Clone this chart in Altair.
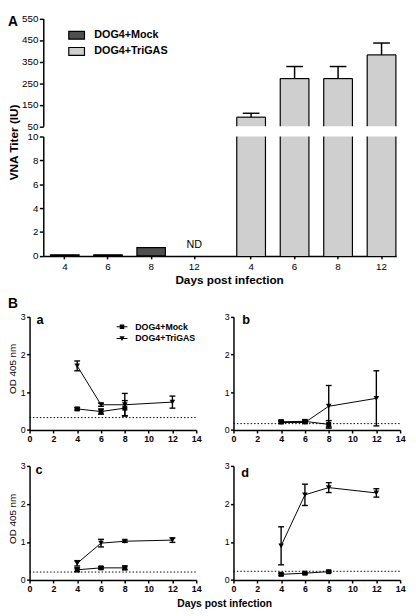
import altair as alt
import pandas as pd

# ---------------- data ----------------
groups = ["DOG4+Mock", "DOG4+TriGAS"]
group_fill = ["#4f4f4f", "#cfcfcf"]

# Panel A: VNA titer (IU)
a_days = ["4", "6", "8", "12"]
a_mock_titer = [0.1, 0.1, 0.7, None]      # day 12: ND
a_tri_titer = [92, 271, 271, 381]
a_tri_sd = [18, 56, 56, 55]

# Panel B: OD 405 nm
b_panels = ["a", "b", "c", "d"]
b_mock_days = [4, 6, 8]
b_tri_days = [4, 6, 8, 12]
b_mock_mean = {"a": [0.56, 0.49, 0.58], "b": [0.22, 0.23, 0.15],
               "c": [0.27, 0.32, 0.32], "d": [0.15, 0.18, 0.22]}
b_mock_sd = {"a": [0.03, 0.07, 0.20], "b": [0.04, 0.04, 0.10],
             "c": [0.05, 0.03, 0.05], "d": [0.03, 0.02, 0.02]}
b_tri_mean = {"a": [1.70, 0.67, 0.67, 0.74], "b": [0.20, 0.20, 0.63, 0.84],
              "c": [0.44, 0.97, 1.02, 1.05], "d": [0.90, 2.24, 2.43, 2.29]}
b_tri_sd = {"a": [0.13, 0.04, 0.30, 0.16], "b": [0.03, 0.03, 0.55, 0.73],
            "c": [0.07, 0.10, 0.03, 0.06], "d": [0.50, 0.28, 0.13, 0.11]}
b_cutoff = {"a": 0.33, "b": 0.17, "c": 0.21, "d": 0.23}

# ---------------- layout (pixels inside the canvas) ----------------
W, H = 408, 608
FONT = "Liberation Sans"
A_AXIS_X = 36
A_AXIS_X_END = 396
A_UP_RANGE = [114.5, 4.6]
A_LO_RANGE = [246.8, 125.0]
A_MOCK_RANGE = [36, 212]
A_TRI_RANGE = [225.8, 403.2]
B_XR = {"a": [22, 192], "b": [230, 400], "c": [22, 192], "d": [230, 400]}
B_YR = {"a": [424.4, 308.9], "b": [424.4, 308.9], "c": [577.4, 461.0], "d": [577.4, 461.0]}

PATH_BOX = "M-1,-0.5H1V0.5H-1Z"
# legend symbols: a thin filled bar (the line) plus the marker
PATH_MOCK = "M-1,-0.09H1V0.09H-1Z M-0.42,-0.42H0.42V0.42H-0.42Z"
PATH_TRI = "M-1,-0.09H1V0.09H-1Z M-0.48,-0.42L0.48,-0.42L0,0.45Z"


def axis_y(x_px, values, size=10, weight="normal", tick=4, pad=1.5, width=1.5):
    return alt.Axis(orient="left", offset=-x_px, values=values, title=None, grid=False,
                    domainColor="black", domainWidth=width, tickColor="black",
                    tickWidth=width, tickSize=tick, labelFont=FONT, labelFontSize=size,
                    labelFontWeight=weight, labelColor="black", labelPadding=pad,
                    labelFlush=False, labelOverlap=False, labelBound=False, labelAngle=0)


def axis_x(y_px, size=10, weight="normal", tick=3, pad=2, domain=True, labels=True,
           ticks=True, width=1.5, values=None):
    kw = dict(orient="bottom", offset=y_px - H, title=None, grid=False, domain=domain,
              domainColor="black", domainWidth=width, ticks=ticks, tickColor="black",
              tickWidth=width, tickSize=tick, labels=labels, labelFont=FONT,
              labelFontSize=size, labelFontWeight=weight, labelColor="black",
              labelPadding=pad, labelFlush=False, labelOverlap=False, labelBound=False,
              labelAngle=0, labelAlign="center", labelBaseline="top")
    if values is not None:
        kw["values"] = values
    return alt.Axis(**kw)


def text_layer(txt, x, y, size, weight="normal", angle=0, align="center"):
    return alt.Chart(pd.DataFrame({"t": [txt]})).mark_text(
        font=FONT, fontSize=size, fontWeight=weight, angle=angle, align=align,
        baseline="middle", color="black"
    ).encode(x=alt.value(x), y=alt.value(y), text="t:N")


layers = []

# ---------------- Panel A ----------------
df_mock = pd.DataFrame({"day": a_days, "titer": a_mock_titer, "group": groups[0]})
df_mock_bar = df_mock.dropna()
df_nd = df_mock[df_mock["titer"].isna()].assign(label="ND")
df_tri = pd.DataFrame({"day": a_days, "titer": a_tri_titer, "sd": a_tri_sd, "group": groups[1]})
df_tri["hi"] = df_tri["titer"] + df_tri["sd"]

mock_scale = alt.Scale(domain=a_days, range=A_MOCK_RANGE, paddingInner=0.34, paddingOuter=0.17)
tri_scale = alt.Scale(domain=a_days, range=A_TRI_RANGE, paddingInner=0.34, paddingOuter=0.17)
lo_scale = alt.Scale(domain=[0, 10], range=A_LO_RANGE, clamp=True, nice=False)
up_scale = alt.Scale(domain=[50, 550], range=A_UP_RANGE, clamp=True, nice=False, zero=False)
fill_scale = alt.Scale(domain=groups, range=group_fill)

legend_a = alt.Legend(orient="none", legendX=61, legendY=12.7, title=None,
                      symbolType=PATH_BOX, symbolSize=256, symbolStrokeColor="black",
                      symbolStrokeWidth=1.2, labelFont=FONT, labelFontSize=11,
                      labelFontWeight="bold", labelColor="black", labelOffset=9,
                      rowPadding=0.5, padding=0)

# x-axis line of panel A
layers.append(
    alt.Chart(pd.DataFrame({"v": [0, 1]})).mark_point(opacity=0).encode(
        x=alt.X("v:Q", scale=alt.Scale(domain=[0, 1], range=[A_AXIS_X, A_AXIS_X_END], nice=False),
                axis=axis_x(A_LO_RANGE[0], labels=False, ticks=False)),
        y=alt.value(0),
    )
)

# Mock bars (lower segment)
layers.append(
    alt.Chart(df_mock_bar).mark_bar(stroke="black", strokeWidth=1.2).encode(
        x=alt.X("day:N", scale=mock_scale, axis=axis_x(A_LO_RANGE[0], domain=False, pad=2.5)),
        y=alt.Y("titer:Q", scale=lo_scale, axis=axis_y(A_AXIS_X, [0, 2, 4, 6, 8, 10])),
        y2=alt.datum(0),
        fill=alt.Fill("group:N", scale=fill_scale, legend=legend_a),
    )
)
# ND label
layers.append(
    alt.Chart(df_nd).mark_text(font=FONT, fontSize=11, color="black", baseline="middle").encode(
        x=alt.X("day:N", scale=mock_scale, axis=None),
        y=alt.value(236),
        text="label:N",
    )
)

# TriGAS bars lower segment (fill + side edges)
layers.append(
    alt.Chart(df_tri).mark_bar(strokeWidth=0).encode(
        x=alt.X("day:N", scale=tri_scale, axis=axis_x(A_LO_RANGE[0], domain=False, pad=2.5)),
        y=alt.Y("titer:Q", scale=lo_scale, axis=None),
        y2=alt.datum(0),
        fill=alt.Fill("group:N", scale=fill_scale, legend=None),
    )
)
for bp in (0, 1):
    layers.append(
        alt.Chart(df_tri).mark_rule(color="black", strokeWidth=1.2).encode(
            x=alt.X("day:N", scale=tri_scale, axis=None, bandPosition=bp),
            y=alt.Y("titer:Q", scale=lo_scale, axis=None),
            y2=alt.datum(0),
        )
    )

# TriGAS bars upper segment
layers.append(
    alt.Chart(df_tri).mark_bar(strokeWidth=0).encode(
        x=alt.X("day:N", scale=tri_scale, axis=None),
        y=alt.Y("titer:Q", scale=up_scale,
                axis=axis_y(A_AXIS_X, [50, 150, 250, 350, 450, 550])),
        y2=alt.datum(50),
        fill=alt.Fill("group:N", scale=fill_scale, legend=None),
    )
)
for bp in (0, 1):
    layers.append(
        alt.Chart(df_tri).mark_rule(color="black", strokeWidth=1.2).encode(
            x=alt.X("day:N", scale=tri_scale, axis=None, bandPosition=bp),
            y=alt.Y("titer:Q", scale=up_scale, axis=None),
            y2=alt.datum(50),
        )
    )
# top edge of bars
layers.append(
    alt.Chart(df_tri).mark_tick(orient="horizontal", size=29.5, thickness=1.2, color="black", opacity=1).encode(
        x=alt.X("day:N", scale=tri_scale, axis=None),
        y=alt.Y("titer:Q", scale=up_scale, axis=None),
    )
)
# error bars (upward)
layers.append(
    alt.Chart(df_tri).mark_rule(color="black", strokeWidth=1.5).encode(
        x=alt.X("day:N", scale=tri_scale, axis=None),
        y=alt.Y("titer:Q", scale=up_scale, axis=None),
        y2="hi:Q",
    )
)
layers.append(
    alt.Chart(df_tri).mark_tick(orient="horizontal", size=17, thickness=1.5, color="black", opacity=1).encode(
        x=alt.X("day:N", scale=tri_scale, axis=None),
        y=alt.Y("hi:Q", scale=up_scale, axis=None),
    )
)

# ---------------- Panel B ----------------
rows = []
for k in b_panels:
    for d, m, s in zip(b_mock_days, b_mock_mean[k], b_mock_sd[k]):
        rows.append({"panel": k, "group": groups[0], "day": d, "mean": m, "lo": m - s, "hi": m + s})
    for d, m, s in zip(b_tri_days, b_tri_mean[k], b_tri_sd[k]):
        rows.append({"panel": k, "group": groups[1], "day": d, "mean": m, "lo": m - s, "hi": m + s})
df_b = pd.DataFrame(rows)

for k in b_panels:
    dk = df_b[df_b["panel"] == k]
    xs = alt.Scale(domain=[0, 14], range=B_XR[k], nice=False, zero=False)
    ys = alt.Scale(domain=[0, 3], range=B_YR[k], nice=False, zero=False)
    x_ax = axis_x(B_YR[k][0], size=9, weight="bold", tick=3, pad=1.5,
                  values=list(range(0, 15, 2)))
    y_ax = axis_y(B_XR[k][0], [0, 1, 2, 3], size=9, tick=3, pad=1.5)
    xq = alt.X("day:Q", scale=xs, axis=None)

    # cut-off line
    layers.append(
        alt.Chart(pd.DataFrame({"cut": [b_cutoff[k]]})).mark_rule(
            color="black", strokeWidth=1, strokeDash=[1.5, 2]).encode(
            x=alt.XDatum(0, type="quantitative", scale=xs, axis=None),
            x2=alt.X2Datum(14),
            y=alt.Y("cut:Q", scale=ys, axis=None),
        )
    )
    # connecting lines (carry the axes)
    layers.append(
        alt.Chart(dk).mark_line(color="black", strokeWidth=1).encode(
            x=alt.X("day:Q", scale=xs, axis=x_ax),
            y=alt.Y("mean:Q", scale=ys, axis=y_ax),
            detail="group:N",
            order="day:Q",
        )
    )
    # error bars
    layers.append(
        alt.Chart(dk).mark_rule(color="black", strokeWidth=1.4).encode(
            x=xq, y=alt.Y("lo:Q", scale=ys, axis=None), y2="hi:Q",
        )
    )
    layers.append(
        alt.Chart(dk).transform_fold(["lo", "hi"], as_=["end", "val"]).mark_tick(
            orient="horizontal", size=6, thickness=1.4, color="black", opacity=1).encode(
            x=xq, y=alt.Y("val:Q", scale=ys, axis=None),
        )
    )
    # markers
    layers.append(
        alt.Chart(dk[dk["group"] == groups[0]]).mark_point(
            shape="square", filled=True, size=26, color="black", opacity=1).encode(
            x=xq, y=alt.Y("mean:Q", scale=ys, axis=None),
        )
    )
    layers.append(
        alt.Chart(dk[dk["group"] == groups[1]]).mark_point(
            shape="triangle-down", filled=True, size=32, color="black", opacity=1).encode(
            x=xq, y=alt.Y("mean:Q", scale=ys, axis=None),
        )
    )

# legend for panel B (helper layer drawn off-canvas, only its legend is seen)
legend_b = alt.Legend(orient="none", legendX=109.8, legendY=312.5, title=None,
                      symbolSize=121, symbolFillColor="black",
                      labelFont=FONT, labelFontSize=9,
                      labelFontWeight="bold", labelColor="black", labelOffset=7,
                      rowPadding=0, padding=0)
layers.append(
    alt.Chart(pd.DataFrame({"group": groups})).mark_point(
        filled=True, color="black", clip=True, opacity=1).encode(
        x=alt.value(-60), y=alt.value(-60),
        shape=alt.Shape("group:N", scale=alt.Scale(domain=groups, range=[PATH_MOCK, PATH_TRI]),
                        legend=legend_b),
    )
)

# ---------------- texts ----------------
layers += [
    text_layer("A", 0, 8.5, 14, "bold", align="left"),
    text_layer("VNA Titer (IU)", 6, 131, 12, "bold", angle=270),
    text_layer("Days post infection", 226, 271.5, 12, "bold"),
    text_layer("B", 0, 296, 14, "bold", align="left"),
    text_layer("a", 29, 312, 13, "bold", align="left"),
    text_layer("b", 239, 312.5, 13, "bold", align="left"),
    text_layer("c", 28, 465.5, 13, "bold", align="left"),
    text_layer("d", 238, 468, 13, "bold", align="left"),
    text_layer("OD 405 nm", 5, 362, 10, angle=270),
    text_layer("OD 405 nm", 5, 515, 10, angle=270),
    text_layer("Days post infection", 221, 602, 10.5, "bold"),
]

chart = alt.layer(*layers).resolve_scale(
    x="independent", y="independent", fill="independent", shape="independent"
).properties(
    width=W, height=H, padding=0, background="white",
    autosize=alt.AutoSizeParams(type="none"),
).configure_view(stroke=None)

chart.save("out.html", embed_options={"renderer": "svg", "actions": False})
